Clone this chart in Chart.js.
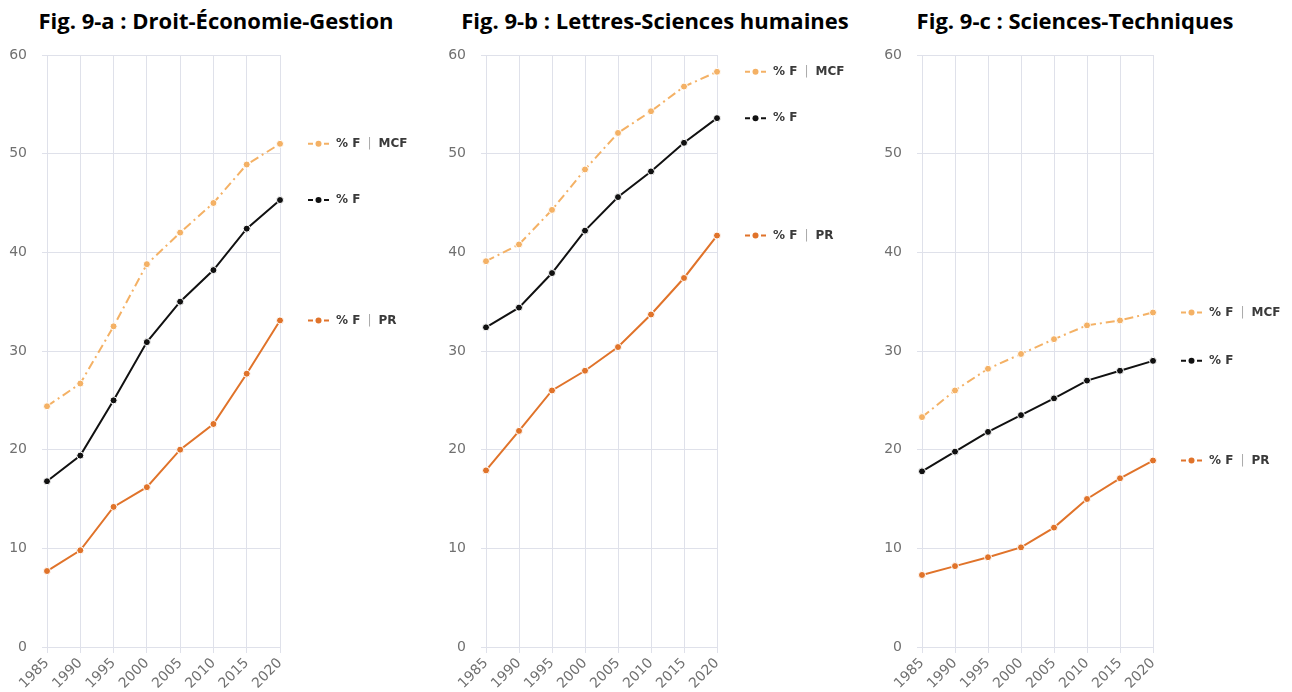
<!DOCTYPE html>
<html>
<head>
<meta charset="utf-8">
<script src="https://cdn.jsdelivr.net/npm/chart.js@4/dist/chart.umd.min.js"></script>
<style>
	body { margin: 0; background: #fff; }
	#page { position: relative; width: 1292px; height: 692px; overflow: hidden; }
	.fig-title { position: absolute; top: 5px; width: 440px; margin-left: -220px; text-align: center; font-family: 'Open Sans', Lato, sans-serif; font-weight: bold; font-size: 22px; color: #000; white-space: nowrap; }
	.fig-wrap { position: absolute; top: 0; width: 430px; height: 692px; }
</style>
</head>
<body>
<div id="page">
	<div class="fig-title" style="left:216px">Fig. 9-a : Droit-Économie-Gestion</div>
	<div class="fig-title" style="left:655px">Fig. 9-b : Lettres-Sciences humaines</div>
	<div class="fig-title" style="left:1075px">Fig. 9-c : Sciences-Techniques</div>
	<div class="fig-wrap" style="left:0px"><canvas id="figA"></canvas></div>
	<div class="fig-wrap" style="left:430px"><canvas id="figB"></canvas></div>
	<div class="fig-wrap" style="left:862px"><canvas id="figC"></canvas></div>
</div>
<script>

	// years on the x axis
	var years = ['1985', '1990', '1995', '2000', '2005', '2010', '2015', '2020'];

	var seriesNames = ['% F | MCF', '% F', '% F | PR'];
	var seriesColors = ['#f4b165', '#111111', '#e0732a'];

	// Fig. 9-a : Droit-Economie-Gestion
	var droitMCF = [24.4, 26.7, 32.5, 38.8, 42.0, 45.0, 48.9, 51.0];
	var droitF   = [16.8, 19.4, 25.0, 30.9, 35.0, 38.2, 42.4, 45.3];
	var droitPR  = [7.7, 9.8, 14.2, 16.2, 20.0, 22.6, 27.7, 33.1];

	// Fig. 9-b : Lettres-Sciences humaines
	var lettresMCF = [39.1, 40.8, 44.3, 48.4, 52.1, 54.3, 56.8, 58.3];
	var lettresF   = [32.4, 34.4, 37.9, 42.2, 45.6, 48.2, 51.1, 53.6];
	var lettresPR  = [17.9, 21.9, 26.0, 28.0, 30.4, 33.7, 37.4, 41.7];

	// Fig. 9-c : Sciences-Techniques
	var sciencesMCF = [23.3, 26.0, 28.2, 29.7, 31.2, 32.6, 33.1, 33.9];
	var sciencesF   = [17.8, 19.8, 21.8, 23.5, 25.2, 27.0, 28.0, 29.0];
	var sciencesPR  = [7.3, 8.2, 9.1, 10.1, 12.1, 15.0, 17.1, 18.9];

	var yMin = 0, yMax = 60, yStep = 10;

	var uiFont = "'DejaVu Sans', sans-serif";

	// labels drawn to the right of the last point of each line
	var endLabels = {
		id: 'endLabels',
		afterDatasetsDraw: function(chart) {
			var ctx = chart.ctx;
			var right = chart.chartArea.right;
			chart.data.datasets.forEach(function(ds, i) {
				var meta = chart.getDatasetMeta(i);
				var pt = meta.data[meta.data.length - 1];
				var y = pt.y;
				var x0 = right + 28, x1 = right + 49;
				ctx.save();
				ctx.strokeStyle = ds.borderColor;
				ctx.lineWidth = 2;
				ctx.setLineDash([5, 3]);
				ctx.beginPath();
				ctx.moveTo(x0, y);
				ctx.lineTo(x1, y);
				ctx.stroke();
				ctx.setLineDash([]);
				ctx.fillStyle = ds.borderColor;
				ctx.beginPath();
				ctx.arc((x0 + x1) / 2, y, 3, 0, Math.PI * 2);
				ctx.fill();

				ctx.font = "bold 12px " + uiFont;
				ctx.textBaseline = 'middle';
				var parts = ds.label.split('|');
				var x = right + 56;
				ctx.fillStyle = '#3a3a3a';
				ctx.fillText(parts[0].trim(), x, y);
				if (parts.length > 1) {
					x += ctx.measureText(parts[0].trim()).width + 7;
					ctx.fillStyle = '#aaa';
					ctx.font = "12px " + uiFont;
					ctx.fillText('|', x, y);
					x += ctx.measureText('|').width + 7;
					ctx.font = "bold 12px " + uiFont;
					ctx.fillStyle = '#3a3a3a';
					ctx.fillText(parts[1].trim(), x, y);
				}
				ctx.restore();
			});
		}
	};

	function makeDataset(name, values, color, dash) {
		return {
			label: name,
			data: values,
			borderColor: color,
			backgroundColor: color,
			borderWidth: 2,
			borderDash: dash || [],
			pointRadius: 3.5,
			pointBackgroundColor: color,
			pointBorderColor: '#fff',
			pointBorderWidth: 1,
			tension: 0
		};
	}

	function newLineChart(canvasId, options) {

		var settings = Object.assign({
			mcf: [],
			all: [],
			pr: [],
			padLeft: 0,
			padRight: 150
		}, options);

		var ctx = document.getElementById(canvasId).getContext('2d');

		return new Chart(ctx, {
			type: 'line',
			data: {
				labels: years,
				datasets: [
					makeDataset(seriesNames[0], settings.mcf, seriesColors[0], [9, 4, 2, 4]),
					makeDataset(seriesNames[1], settings.all, seriesColors[1]),
					makeDataset(seriesNames[2], settings.pr, seriesColors[2])
				]
			},
			options: {
				responsive: true,
				maintainAspectRatio: false,
				animation: false,
				layout: {
					padding: { top: 55, left: settings.padLeft, right: settings.padRight, bottom: 0 }
				},
				plugins: {
					legend: { display: false },
					tooltip: { enabled: false },
					title: { display: false }
				},
				scales: {
					x: {
						grid: { color: '#dfe1ea', tickLength: 6 },
						border: { display: false },
						ticks: {
							color: '#707070',
							font: { family: uiFont, size: 14 },
							minRotation: 45,
							maxRotation: 45,
							padding: 2
						},
						afterFit: function(scale) { scale.height = 45; }
					},
					y: {
						min: yMin,
						max: yMax,
						grid: { color: '#dfe1ea', tickLength: 5 },
						border: { display: false },
						ticks: {
							stepSize: yStep,
							color: '#707070',
							font: { family: uiFont, size: 14 },
							padding: 15
						},
						afterFit: function(scale) { scale.width = 47; }
					}
				}
			},
			plugins: [endLabels]
		});
	}

	newLineChart('figA', { mcf: droitMCF, all: droitF, pr: droitPR, padLeft: 0, padRight: 150 });
	newLineChart('figB', { mcf: lettresMCF, all: lettresF, pr: lettresPR, padLeft: 9, padRight: 143 });
	newLineChart('figC', { mcf: sciencesMCF, all: sciencesF, pr: sciencesPR, padLeft: 13, padRight: 139 });

</script>
</body>
</html>
